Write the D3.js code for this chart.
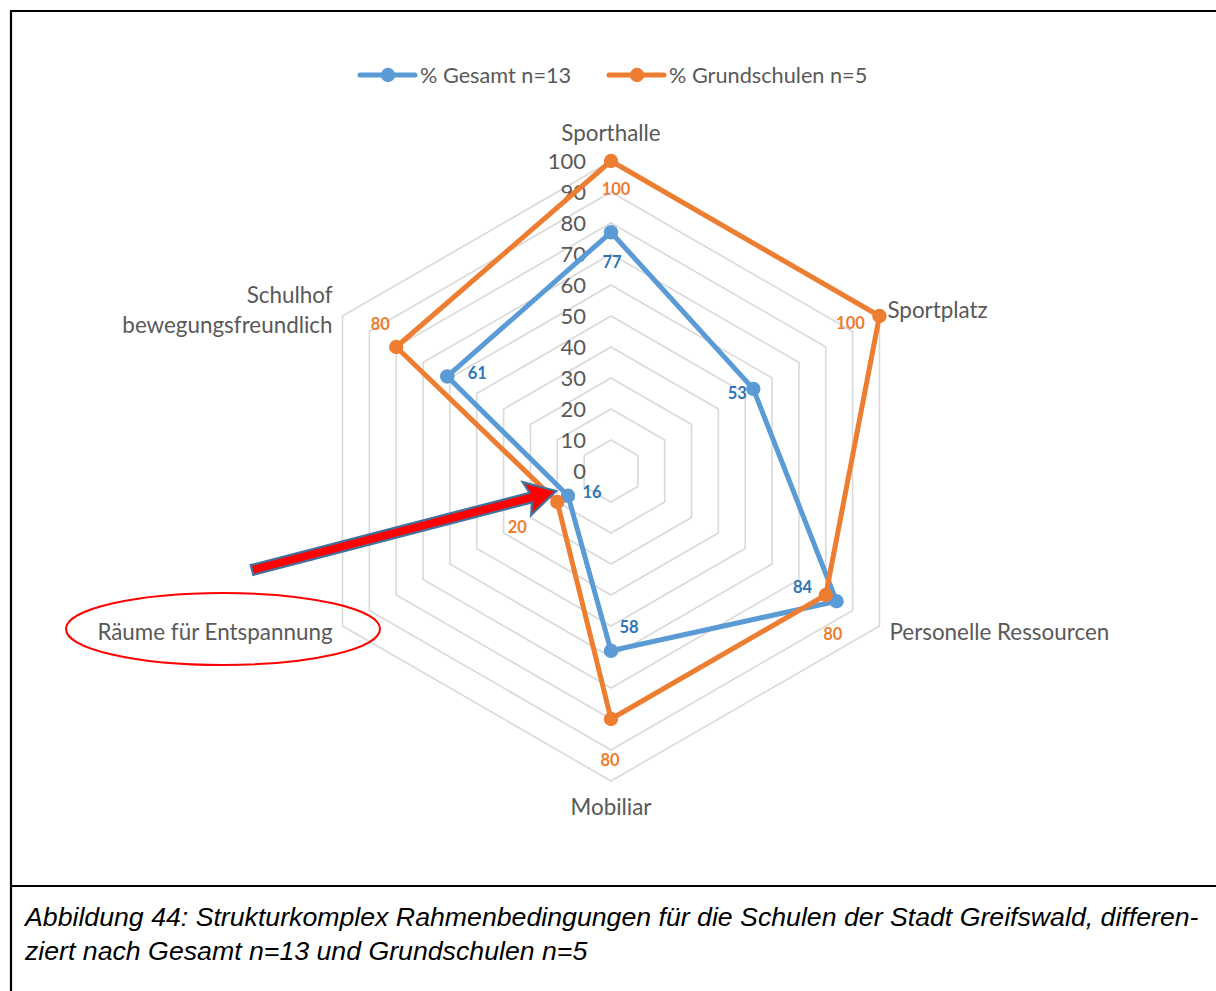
<!DOCTYPE html>
<html>
<head>
<meta charset="utf-8">
<script src="https://cdn.jsdelivr.net/npm/d3@7/dist/d3.min.js"></script>
<style>
  html, body { margin: 0; padding: 0; background: #fff; }
  svg { display: block; }
</style>
</head>
<body>
<svg id="chart" width="1216" height="991"></svg>
<script>
// Axes of the radar, clockwise from the top
const categories = ["Sporthalle", "Sportplatz", "Personelle Ressourcen", "Mobiliar", "Räume für Entspannung", "Schulhof\nbewegungsfreundlich"];
const gesamt = [77, 53, 84, 58, 16, 61];
const grundschulen = [100, 100, 80, 80, 20, 80];
const seriesNames = ["% Gesamt n=13", "% Grundschulen n=5"];
const tickValues = [0, 10, 20, 30, 40, 50, 60, 70, 80, 90, 100];
const captionLines = [
  "Abbildung 44: Strukturkomplex Rahmenbedingungen für die Schulen der Stadt Greifswald, differen-",
  "ziert nach Gesamt n=13 und Grundschulen n=5"
];

const svg = d3.select("#chart");
const font = "Lato, 'Open Sans', sans-serif";
const textGrey = "#595959";
const blue = "#5b9bd5", orange = "#ed7d31";
const blueLabel = "#2e75b6";

// frame lines
svg.append("path")
  .attr("d", "M11,991 V11 H1216 M11,886 H1216")
  .attr("fill", "none").attr("stroke", "#000").attr("stroke-width", 2.2);

const cx = 611, cy = 471, R = 310;
const r = d3.scaleLinear().domain([0, 100]).range([0, R]);
const angle = d3.scalePoint().domain(categories).range([0, 2 * Math.PI * 5 / 6]);
const pt = (cat, v) => {
  const a = angle(cat);
  return [cx + r(v) * Math.sin(a), cy - r(v) * Math.cos(a)];
};

const g = svg.append("g");

// hexagonal grid
const gridLine = d3.line().curve(d3.curveLinearClosed);
tickValues.filter(v => v > 0).forEach(v => {
  g.append("path")
    .attr("d", gridLine(categories.map(c => pt(c, v))))
    .attr("fill", "none").attr("stroke", "#d9d9d9").attr("stroke-width", 1.6);
});

// value ticks along the top axis
g.selectAll(".tick").data(tickValues).join("text")
  .attr("x", cx - 25).attr("y", v => cy - r(v))
  .attr("dy", "0.35em").attr("text-anchor", "end")
  .attr("font-family", font).attr("font-size", 22).attr("fill", textGrey)
  .text(v => v);

// category labels
const catLayout = [
  { dx: 0, dy: -28, anchor: "middle" },
  { dx: 8, dy: -6, anchor: "start" },
  { dx: 10, dy: 6, anchor: "start" },
  { dx: 0, dy: 26, anchor: "middle" },
  { dx: -10, dy: 6, anchor: "end" },
  { dx: -10, dy: -21, anchor: "end" }
];
categories.forEach((c, i) => {
  const [x, y] = pt(c, 100);
  const L = catLayout[i];
  const lines = c.split("\n");
  const t = g.append("text")
    .attr("x", x + L.dx).attr("y", y + L.dy)
    .attr("text-anchor", L.anchor)
    .attr("font-family", font).attr("font-size", 22.4).attr("fill", textGrey);
  lines.forEach((s, k) => {
    t.append("tspan").attr("x", x + L.dx).attr("dy", k === 0 ? "0.35em" : 30).text(s);
  });
});

// series
const series = [
  { name: seriesNames[0], values: gesamt, color: blue, labelColor: blueLabel,
    offsets: [[1, 30], [-16, 4], [-34, -14], [18, -24], [24, -4], [30, -3]] },
  { name: seriesNames[1], values: grundschulen, color: orange, labelColor: orange,
    offsets: [[5, 28], [-29, 7], [7, 39], [-1, 41], [-40, 25], [-16, -23]] }
];
const radarLine = d3.line().curve(d3.curveLinearClosed);
series.forEach(s => {
  const pts = categories.map((c, i) => pt(c, s.values[i]));
  g.append("path").attr("d", radarLine(pts))
    .attr("fill", "none").attr("stroke", s.color).attr("stroke-width", 5)
    .attr("stroke-linejoin", "round");
  g.selectAll(null).data(pts).join("circle")
    .attr("cx", d => d[0]).attr("cy", d => d[1]).attr("r", 7.2)
    .attr("fill", s.color);
});
series.forEach(s => {
  const pts = categories.map((c, i) => pt(c, s.values[i]));
  g.selectAll(null).data(pts).join("text")
    .attr("x", (d, i) => d[0] + s.offsets[i][0])
    .attr("y", (d, i) => d[1] + s.offsets[i][1])
    .attr("dy", "0.35em").attr("text-anchor", "middle")
    .attr("font-family", font).attr("font-size", 16.5).attr("font-weight", "bold")
    .attr("fill", s.labelColor)
    .text((d, i) => s.values[i]);
});

// legend
const legend = svg.append("g");
const legendX = [360, 609];
series.forEach((s, i) => {
  const x0 = legendX[i], y0 = 75;
  legend.append("line").attr("x1", x0).attr("x2", x0 + 55).attr("y1", y0).attr("y2", y0)
    .attr("stroke", s.color).attr("stroke-width", 5).attr("stroke-linecap", "round");
  legend.append("circle").attr("cx", x0 + 28).attr("cy", y0).attr("r", 7.2).attr("fill", s.color);
  legend.append("text").attr("x", x0 + 60).attr("y", y0).attr("dy", "0.35em")
    .attr("font-family", font).attr("font-size", 21.7).attr("fill", textGrey)
    .text(s.name);
});

// highlight: arrow pointing at the relaxation-room axis and ellipse around its label
const tail = [252, 570], tip = [556, 491];
const ux = tip[0] - tail[0], uy = tip[1] - tail[1];
const len = Math.hypot(ux, uy);
const u = [ux / len, uy / len], n = [-u[1], u[0]];
const hw = 5, headLen = 26, headW = 17;
const P = (along, side) => [tail[0] + u[0] * along + n[0] * side, tail[1] + u[1] * along + n[1] * side];
const arrowPts = [P(0, -hw), P(len - headLen, -hw), P(len - headLen - 4, -headW), P(len, 0),
                  P(len - headLen - 4, headW), P(len - headLen, hw), P(0, hw)];
svg.append("path").attr("d", d3.line()(arrowPts) + "Z")
  .attr("fill", "#ff0000").attr("stroke", "#41719c").attr("stroke-width", 2.2)
  .attr("stroke-linejoin", "miter");

svg.append("ellipse").attr("cx", 223).attr("cy", 629).attr("rx", 157).attr("ry", 36)
  .attr("fill", "none").attr("stroke", "#ff0000").attr("stroke-width", 2);

// caption
svg.selectAll(".caption").data(captionLines).join("text")
  .attr("x", 25).attr("y", (d, i) => 926 + i * 34)
  .attr("font-family", "'Liberation Sans', Arial, sans-serif")
  .attr("font-style", "italic").attr("font-size", 26.7).attr("fill", "#000")
  .text(d => d);
</script>
</body>
</html>
